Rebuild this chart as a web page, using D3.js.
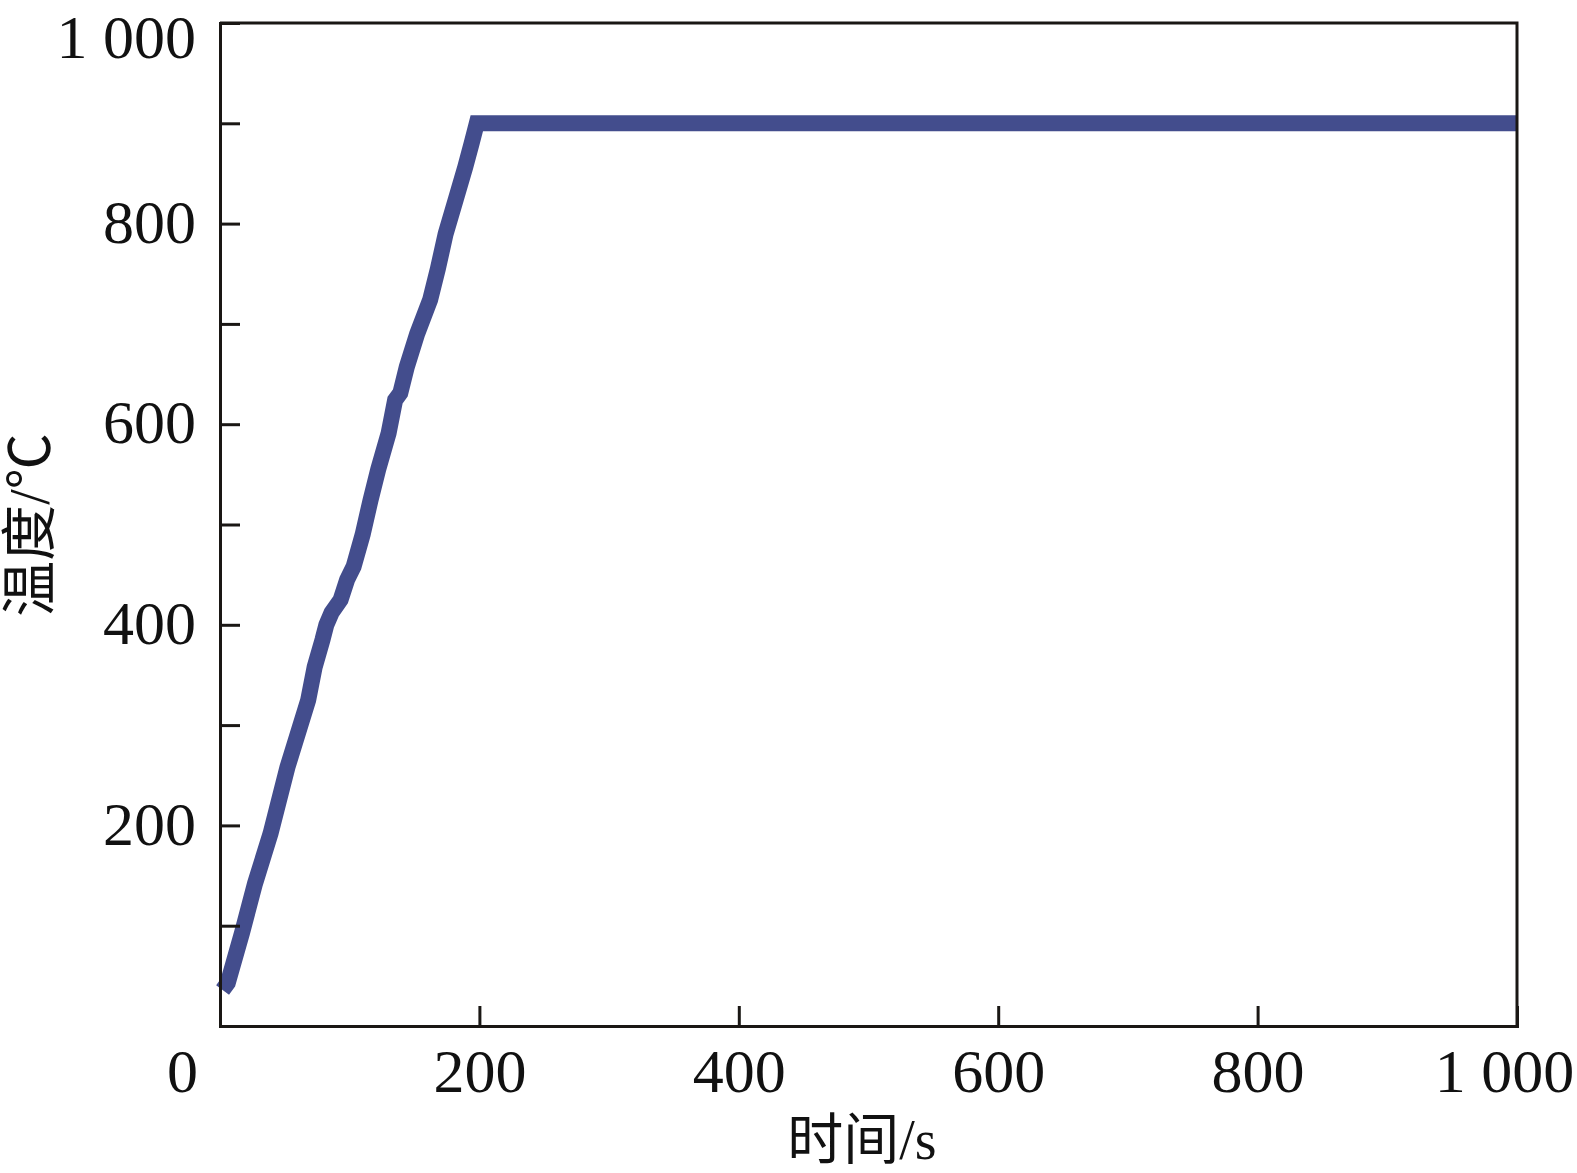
<!DOCTYPE html>
<html>
<head>
<meta charset="utf-8">
<script src="https://cdn.jsdelivr.net/npm/d3@7"></script>
<style>
  html, body { margin: 0; padding: 0; background: #fff; }
  svg { display: block; }
</style>
</head>
<body>
<svg id="chart" width="1577" height="1173"></svg>
<script>
// ---- data ----
const timeS = [2, 6, 17, 27, 39, 52, 68, 73, 79, 82, 86, 93, 98, 103, 110, 116, 122, 130, 135, 139, 144, 152, 162, 168, 174, 182, 189, 194, 198, 1000];
const tempC = [36, 43, 93, 142, 192, 258, 325, 358, 385, 400, 412, 425, 445, 458, 490, 524, 555, 591, 624, 631, 657, 690, 724, 755, 790, 825, 856, 880, 900, 900];
const xTicks = [0, 200, 400, 600, 800, 1000];
const yTicks = [0, 100, 200, 300, 400, 500, 600, 700, 800, 900, 1000];
const yLabelTicks = [200, 400, 600, 800, 1000];
const xTitle = "时间/s";
const yTitle = "温度/℃";

(function () {
const mLeft = 220, mRight = 1517, mTop = 23, mBottom = 1026;
const svg = d3.select("#chart");
const fmt = v => v >= 1000 ? d3.format(",")(v).replace(",", " ") : String(v);

const x = d3.scaleLinear().domain([0, 1000]).range([mLeft, mRight]);
const y = d3.scaleLinear().domain([0, 1000]).range([mBottom, mTop]);

const axisColor = "#1a1714";
const fontNum = "'Liberation Serif', 'Times New Roman', serif";
const fontTitle = "'Liberation Serif', 'Noto Sans CJK SC', serif";

// data line
const line = d3.line().x((d, i) => x(timeS[i])).y((d, i) => y(tempC[i]));
svg.append("path")
  .datum(tempC)
  .attr("d", line)
  .attr("fill", "none")
  .attr("stroke", "#434d8d")
  .attr("stroke-width", 16)
  .attr("stroke-linejoin", "miter")
  .attr("stroke-linecap", "butt");

// frame: top and right
svg.append("path")
  .attr("d", `M${mLeft},${mTop}H${mRight}V${mBottom}`)
  .attr("fill", "none").attr("stroke", axisColor).attr("stroke-width", 3);

// y axis
const yAxis = d3.axisLeft(y).tickValues(yTicks).tickSize(-20).tickPadding(24)
  .tickFormat(v => yLabelTicks.includes(v) ? fmt(v) : "");
const gy = svg.append("g").attr("transform", `translate(${mLeft},0)`).call(yAxis);
gy.select(".domain").attr("stroke", axisColor).attr("stroke-width", 3);
gy.selectAll(".tick line").attr("stroke", axisColor).attr("stroke-width", 3);
gy.selectAll(".tick text")
  .attr("fill", "#111").attr("font-family", fontNum).attr("font-size", 62)
  .attr("dy", d => d === 1000 ? "0.55em" : "0.30em");

// x axis
const xAxis = d3.axisBottom(x).tickValues(xTicks).tickSize(-20).tickPadding(24)
  .tickFormat(fmt);
const gx = svg.append("g").attr("transform", `translate(0,${mBottom})`).call(xAxis);
gx.select(".domain").attr("stroke", axisColor).attr("stroke-width", 3);
gx.selectAll(".tick line").attr("stroke", axisColor).attr("stroke-width", 3);
gx.selectAll(".tick text")
  .attr("fill", "#111").attr("font-family", fontNum).attr("font-size", 62)
  .attr("dy", 0)
  .attr("y", 1092 - mBottom)
  .attr("x", d => d === 0 ? 182 - x(0) : (d === 1000 ? 1504 - x(1000) : 0));

// axis titles
svg.append("text")
  .attr("x", 862).attr("y", 1159)
  .attr("text-anchor", "middle")
  .attr("font-family", fontTitle).attr("font-size", 56).attr("fill", "#111")
  .text(xTitle);
svg.append("text")
  .attr("transform", "translate(49,525) rotate(-90)")
  .attr("text-anchor", "middle")
  .attr("font-family", fontTitle).attr("font-size", 56).attr("fill", "#111")
  .text(yTitle);
})();
</script>
</body>
</html>
